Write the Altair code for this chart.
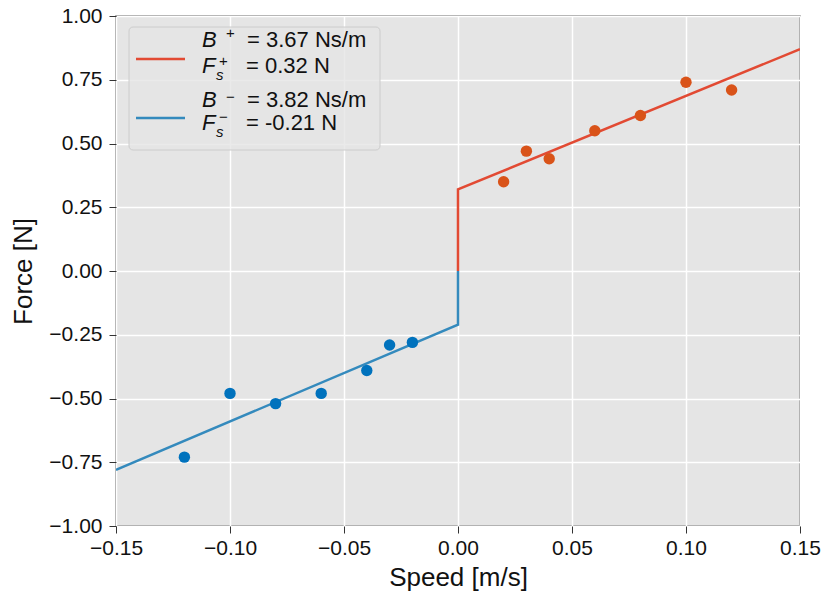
import altair as alt
import pandas as pd

# Measured data
neg_speed = [-0.12, -0.10, -0.08, -0.06, -0.04, -0.03, -0.02]
neg_force = [-0.73, -0.48, -0.52, -0.48, -0.39, -0.29, -0.28]
pos_speed = [0.02, 0.03, 0.04, 0.06, 0.08, 0.10, 0.12]
pos_force = [0.35, 0.47, 0.44, 0.55, 0.61, 0.74, 0.71]

# Fitted model lines
pos_line_x = [0.0, 0.0, 0.15]
pos_line_y = [0.0, 0.32, 0.87]
neg_line_x = [-0.15, 0.0, 0.0]
neg_line_y = [-0.78, -0.21, 0.0]

x_ticks = [-0.15, -0.10, -0.05, 0.00, 0.05, 0.10, 0.15]
y_ticks = [-1.00, -0.75, -0.50, -0.25, 0.00, 0.25, 0.50, 0.75, 1.00]

FONT = "Liberation Sans"
POINT_BLUE = "#0072BD"
POINT_ORANGE = "#D95319"
LINE_RED = "#E24A33"
LINE_BLUE = "#348ABD"

pts = pd.DataFrame({
    "speed": neg_speed + pos_speed,
    "force": neg_force + pos_force,
    "group": ["neg"] * len(neg_speed) + ["pos"] * len(pos_speed),
})
lines = pd.DataFrame({
    "speed": pos_line_x + neg_line_x,
    "force": pos_line_y + neg_line_y,
    "side": ["pos"] * 3 + ["neg"] * 3,
    "order": [0, 1, 2, 0, 1, 2],
})

xscale = alt.Scale(domain=[-0.15, 0.15], nice=False, zero=False)
yscale = alt.Scale(domain=[-1.0, 1.0], nice=False, zero=False)

xaxis = alt.Axis(values=x_ticks, format=".2f", title="Speed [m/s]",
                 labelPadding=4, titlePadding=6, labelFlush=False)
yaxis = alt.Axis(values=y_ticks, format=".2f", title="Force [N]",
                 labelPadding=7, titlePadding=12, labelFlush=False)

line_layer = alt.Chart(lines).mark_line(strokeWidth=2.5, clip=True).encode(
    x=alt.X("speed:Q", scale=xscale, axis=xaxis),
    y=alt.Y("force:Q", scale=yscale, axis=yaxis),
    color=alt.Color("side:N", scale=alt.Scale(domain=["pos", "neg"], range=[LINE_RED, LINE_BLUE]), legend=None),
    detail="side:N",
    order="order:Q",
)

point_layer = alt.Chart(pts).mark_circle(size=130, opacity=1).encode(
    x=alt.X("speed:Q", scale=xscale),
    y=alt.Y("force:Q", scale=yscale),
    fill=alt.Fill("group:N", scale=alt.Scale(domain=["pos", "neg"], range=[POINT_ORANGE, POINT_BLUE]), legend=None),
)

dummy = pd.DataFrame({"a": [0]})

legend_box = alt.Chart(dummy).mark_rect(
    fill="#E5E5E5", fillOpacity=0.8, stroke="#CCCCCC", strokeWidth=1, cornerRadius=4
).encode(x=alt.value(13), x2=alt.value(264), y=alt.value(11), y2=alt.value(134))

legend_red = alt.Chart(dummy).mark_rule(color=LINE_RED, strokeWidth=2.5).encode(
    x=alt.value(20), x2=alt.value(69), y=alt.value(43))
legend_blue = alt.Chart(dummy).mark_rule(color=LINE_BLUE, strokeWidth=2.5).encode(
    x=alt.value(20), x2=alt.value(69), y=alt.value(102))

# Legend text pieces: (text, x, y, size, italic, baseline)
legend_texts = [
    ("B", 86, 31, 22, True, "alphabetic"),
    ("+", 110, 17, 15, False, "middle"),
    ("= 3.67 Ns/m", 131, 31, 22, False, "alphabetic"),
    ("F", 86, 57, 22, True, "alphabetic"),
    ("s", 100, 64, 15, True, "alphabetic"),
    ("+", 103, 45, 15, False, "middle"),
    ("= 0.32 N", 130, 57, 22, False, "alphabetic"),
    ("B", 86, 91, 22, True, "alphabetic"),
    ("\u2212", 110, 81, 15, False, "middle"),
    ("= 3.82 Ns/m", 131, 91, 22, False, "alphabetic"),
    ("F", 86, 114, 22, True, "alphabetic"),
    ("s", 100, 121, 15, True, "alphabetic"),
    ("\u2212", 103, 101, 15, False, "middle"),
    ("= -0.21 N", 130, 114, 22, False, "alphabetic"),
]

text_layers = []
for t, tx, ty, sz, it, bl in legend_texts:
    text_layers.append(
        alt.Chart(dummy).mark_text(
            text=t, font=FONT, fontSize=sz, fontStyle="italic" if it else "normal",
            align="left", baseline=bl, color="#111111"
        ).encode(x=alt.value(tx), y=alt.value(ty))
    )

chart = alt.layer(line_layer, point_layer, legend_box, legend_red, legend_blue, *text_layers).resolve_scale(
    color="independent"
).properties(
    width=684, height=510,
    autosize=alt.AutoSizeParams(type="none"),
    padding={"left": 108, "top": 8, "right": 22, "bottom": 66},
    background="white",
).configure_view(
    fill="#E5E5E5", stroke="#808080", strokeWidth=1.5
).configure_axis(
    labelFont=FONT, titleFont=FONT, labelFontSize=21, titleFontSize=26,
    labelColor="#111111", titleColor="#111111", titleFontWeight="normal",
    grid=True, gridColor="white", gridWidth=1.5,
    domain=False, ticks=True, tickColor="#333333", tickSize=7, tickWidth=1,
)

chart.save("out.html", embed_options={"renderer": "svg", "actions": False})
